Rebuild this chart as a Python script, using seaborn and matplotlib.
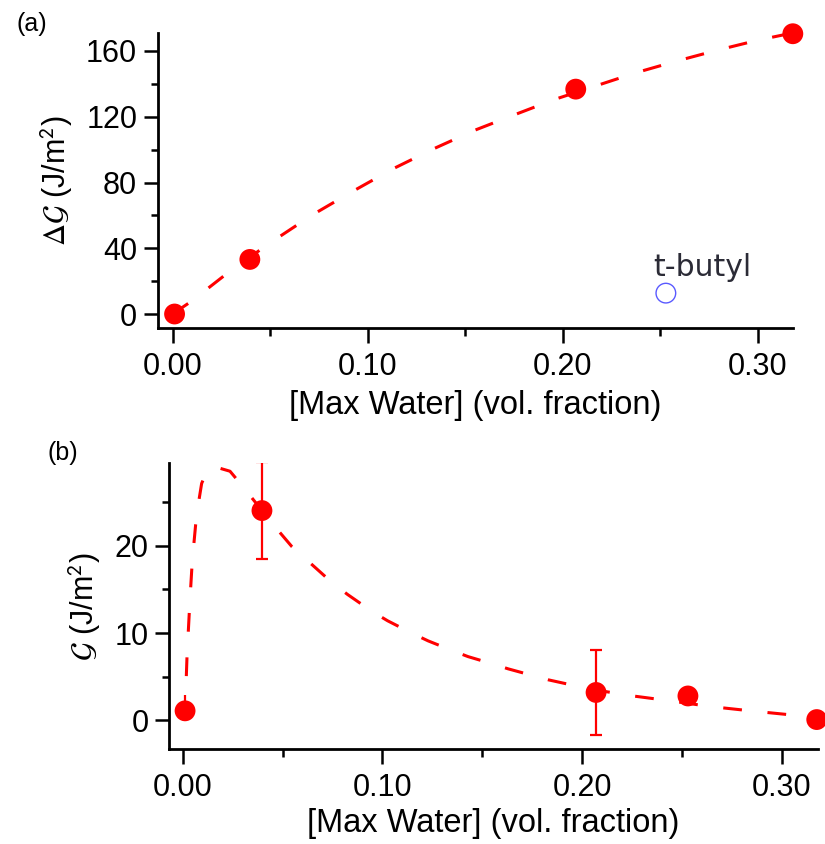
import numpy as np
import pandas as pd
import matplotlib
matplotlib.use("Agg")
import matplotlib.pyplot as plt
from matplotlib.ticker import MultipleLocator, FormatStrFormatter
import seaborn as sns

# ---------------- data ----------------
# panel (a): Delta G vs max water
a_x = [0.001, 0.0396, 0.2067, 0.318]
a_y = [0.0, 33.2, 136.8, 170.5]
a_fit_x = [0.0, 0.0097, 0.0303, 0.0513, 0.0718, 0.0926, 0.1131, 0.134, 0.1547,
           0.1755, 0.196, 0.2376, 0.2585, 0.279, 0.2998, 0.318]
a_fit_y = [0.0, 7.8, 26.9, 44.3, 60.4, 74.8, 88.4, 100.6, 111.7,
           121.3, 130.6, 146.8, 153.9, 160.4, 166.5, 171.0]
tbutyl_x = [0.2529]
tbutyl_y = [12.7]
tbutyl_label = "t-butyl"

# panel (b): G vs max water
b_x = [0.0012, 0.0397, 0.207, 0.253, 0.3175]
b_y = [1.1, 24.0, 3.2, 2.8, 0.1]
b_err_lo = [0.0, 5.5, 4.9, 0.0, 0.0]
b_err_hi = [1.8, 5.5, 4.9, 0.0, 0.0]
b_fit_x = [0.0005, 0.0015, 0.0022, 0.0037, 0.0048, 0.0065, 0.0078, 0.0095, 0.0125,
           0.0162, 0.0237, 0.0303, 0.0453, 0.0546, 0.0629, 0.0746, 0.0826, 0.0946,
           0.1026, 0.1146, 0.1229, 0.1349, 0.1429, 0.1547, 0.163, 0.183, 0.2039,
           0.2235, 0.2439, 0.2639, 0.2843, 0.304, 0.318]
b_fit_y = [0.0, 2.9, 7.5, 14.0, 18.2, 22.4, 24.7, 27.1, 28.7,
           29.0, 28.5, 26.7, 22.4, 19.9, 18.2, 15.8, 14.4, 12.5,
           11.4, 10.0, 9.1, 8.0, 7.3, 6.5, 5.9, 4.65, 3.6,
           2.86, 2.25, 1.6, 1.1, 0.65, 0.4]

x_ticks = [0.00, 0.10, 0.20, 0.30]
a_yticks = [0, 40, 80, 120, 160]
b_yticks = [0, 10, 20]
xlabel = "[Max Water] (vol. fraction)"
a_ylabel = r"$\Delta\mathcal{G}$ (J/m$^{\mathsf{2}}$)"
b_ylabel = r"$\mathcal{G}$ (J/m$^{\mathsf{2}}$)"

# ---------------- style ----------------
sns.set_theme(style="ticks")
plt.rcParams["font.family"] = ["Liberation Sans", "DejaVu Sans"]
plt.rcParams["mathtext.fontset"] = "stix"
plt.rcParams["lines.scale_dashes"] = False
plt.rcParams["axes.linewidth"] = 2.0

RED = "#ff0000"
FS = 22
dash = (0, (13.5, 18.5))

fig = plt.figure(figsize=(8.25, 8.44), dpi=100)
ax1 = fig.add_axes([0.1915, 0.6114, 0.961 - 0.1915, 0.961 - 0.6114])
ax2 = fig.add_axes([0.2052, 0.1122, 0.9912 - 0.2052, 0.451 - 0.1122])


def style_axes(ax):
    sns.despine(ax=ax)
    for s in ("left", "bottom"):
        ax.spines[s].set_color("black")
        ax.spines[s].set_linewidth(2.0)
    ax.tick_params(axis="both", which="major", direction="out", width=1.8,
                   color="black", labelsize=FS, labelcolor="black")
    ax.tick_params(axis="x", which="major", length=11, pad=6)
    ax.tick_params(axis="y", which="major", length=10, pad=5)
    ax.tick_params(axis="x", which="minor", direction="out", length=6, width=1.8, color="black")
    ax.tick_params(axis="y", which="minor", direction="out", length=5, width=1.8, color="black")
    ax.set_xticks(x_ticks)
    ax.xaxis.set_minor_locator(MultipleLocator(0.05))
    ax.xaxis.set_major_formatter(FormatStrFormatter("%.2f"))
    ax.grid(False)
    ax.set_facecolor("white")


# ---- panel (a)
sns.lineplot(x=a_fit_x, y=a_fit_y, ax=ax1, color=RED, linewidth=2.2,
             linestyle=dash, sort=True, estimator=None)
sns.scatterplot(x=a_x, y=a_y, ax=ax1, color=RED, s=225, edgecolor="none",
                zorder=5, clip_on=False)
sns.scatterplot(x=tbutyl_x, y=tbutyl_y, ax=ax1, facecolor="none",
                edgecolor="#5a5aff", s=200, linewidth=1.0, zorder=5)
ax1.text(0.2714, 23.4, tbutyl_label, ha="center", va="baseline",
         fontsize=21.5, color="#2b2b36", family="DejaVu Sans")
ax1.set_xlim(-0.0075, 0.318)
ax1.set_ylim(-8.5, 171)
style_axes(ax1)
ax1.set_yticks(a_yticks)
ax1.yaxis.set_minor_locator(MultipleLocator(20))
ax1.set_xlabel(xlabel, fontsize=23.5, color="black", labelpad=6)
ax1.set_ylabel(a_ylabel, fontsize=FS, color="black", labelpad=8)

# ---- panel (b)
sns.lineplot(x=b_fit_x, y=b_fit_y, ax=ax2, color=RED, linewidth=2.2,
             linestyle=dash, sort=True, estimator=None)
ax2.errorbar(b_x[:1], b_y[:1], yerr=[b_err_lo[:1], b_err_hi[:1]], fmt="none",
             ecolor=RED, elinewidth=1.6, capsize=0, zorder=4)
ax2.errorbar(b_x[1:3], b_y[1:3], yerr=[b_err_lo[1:3], b_err_hi[1:3]], fmt="none",
             ecolor=RED, elinewidth=1.6, capsize=4, capthick=1.6, zorder=4)
sns.scatterplot(x=b_x, y=b_y, ax=ax2, color=RED, s=225, edgecolor="none",
                zorder=5, clip_on=False)
ax2.set_xlim(-0.0067, 0.318)
ax2.set_ylim(-3.3, 29.4)
style_axes(ax2)
ax2.set_yticks(b_yticks)
ax2.yaxis.set_minor_locator(MultipleLocator(5))
ax2.set_xlabel(xlabel, fontsize=23.5, color="black", labelpad=4)
ax2.set_ylabel(b_ylabel, fontsize=FS, color="black", labelpad=8)

fig.text(0.0194, 0.986, "(a)", fontsize=18, ha="left", va="top", color="black")
fig.text(0.057, 0.478, "(b)", fontsize=18, ha="left", va="top", color="black")

fig.savefig("out.png", dpi=100, facecolor="white")
